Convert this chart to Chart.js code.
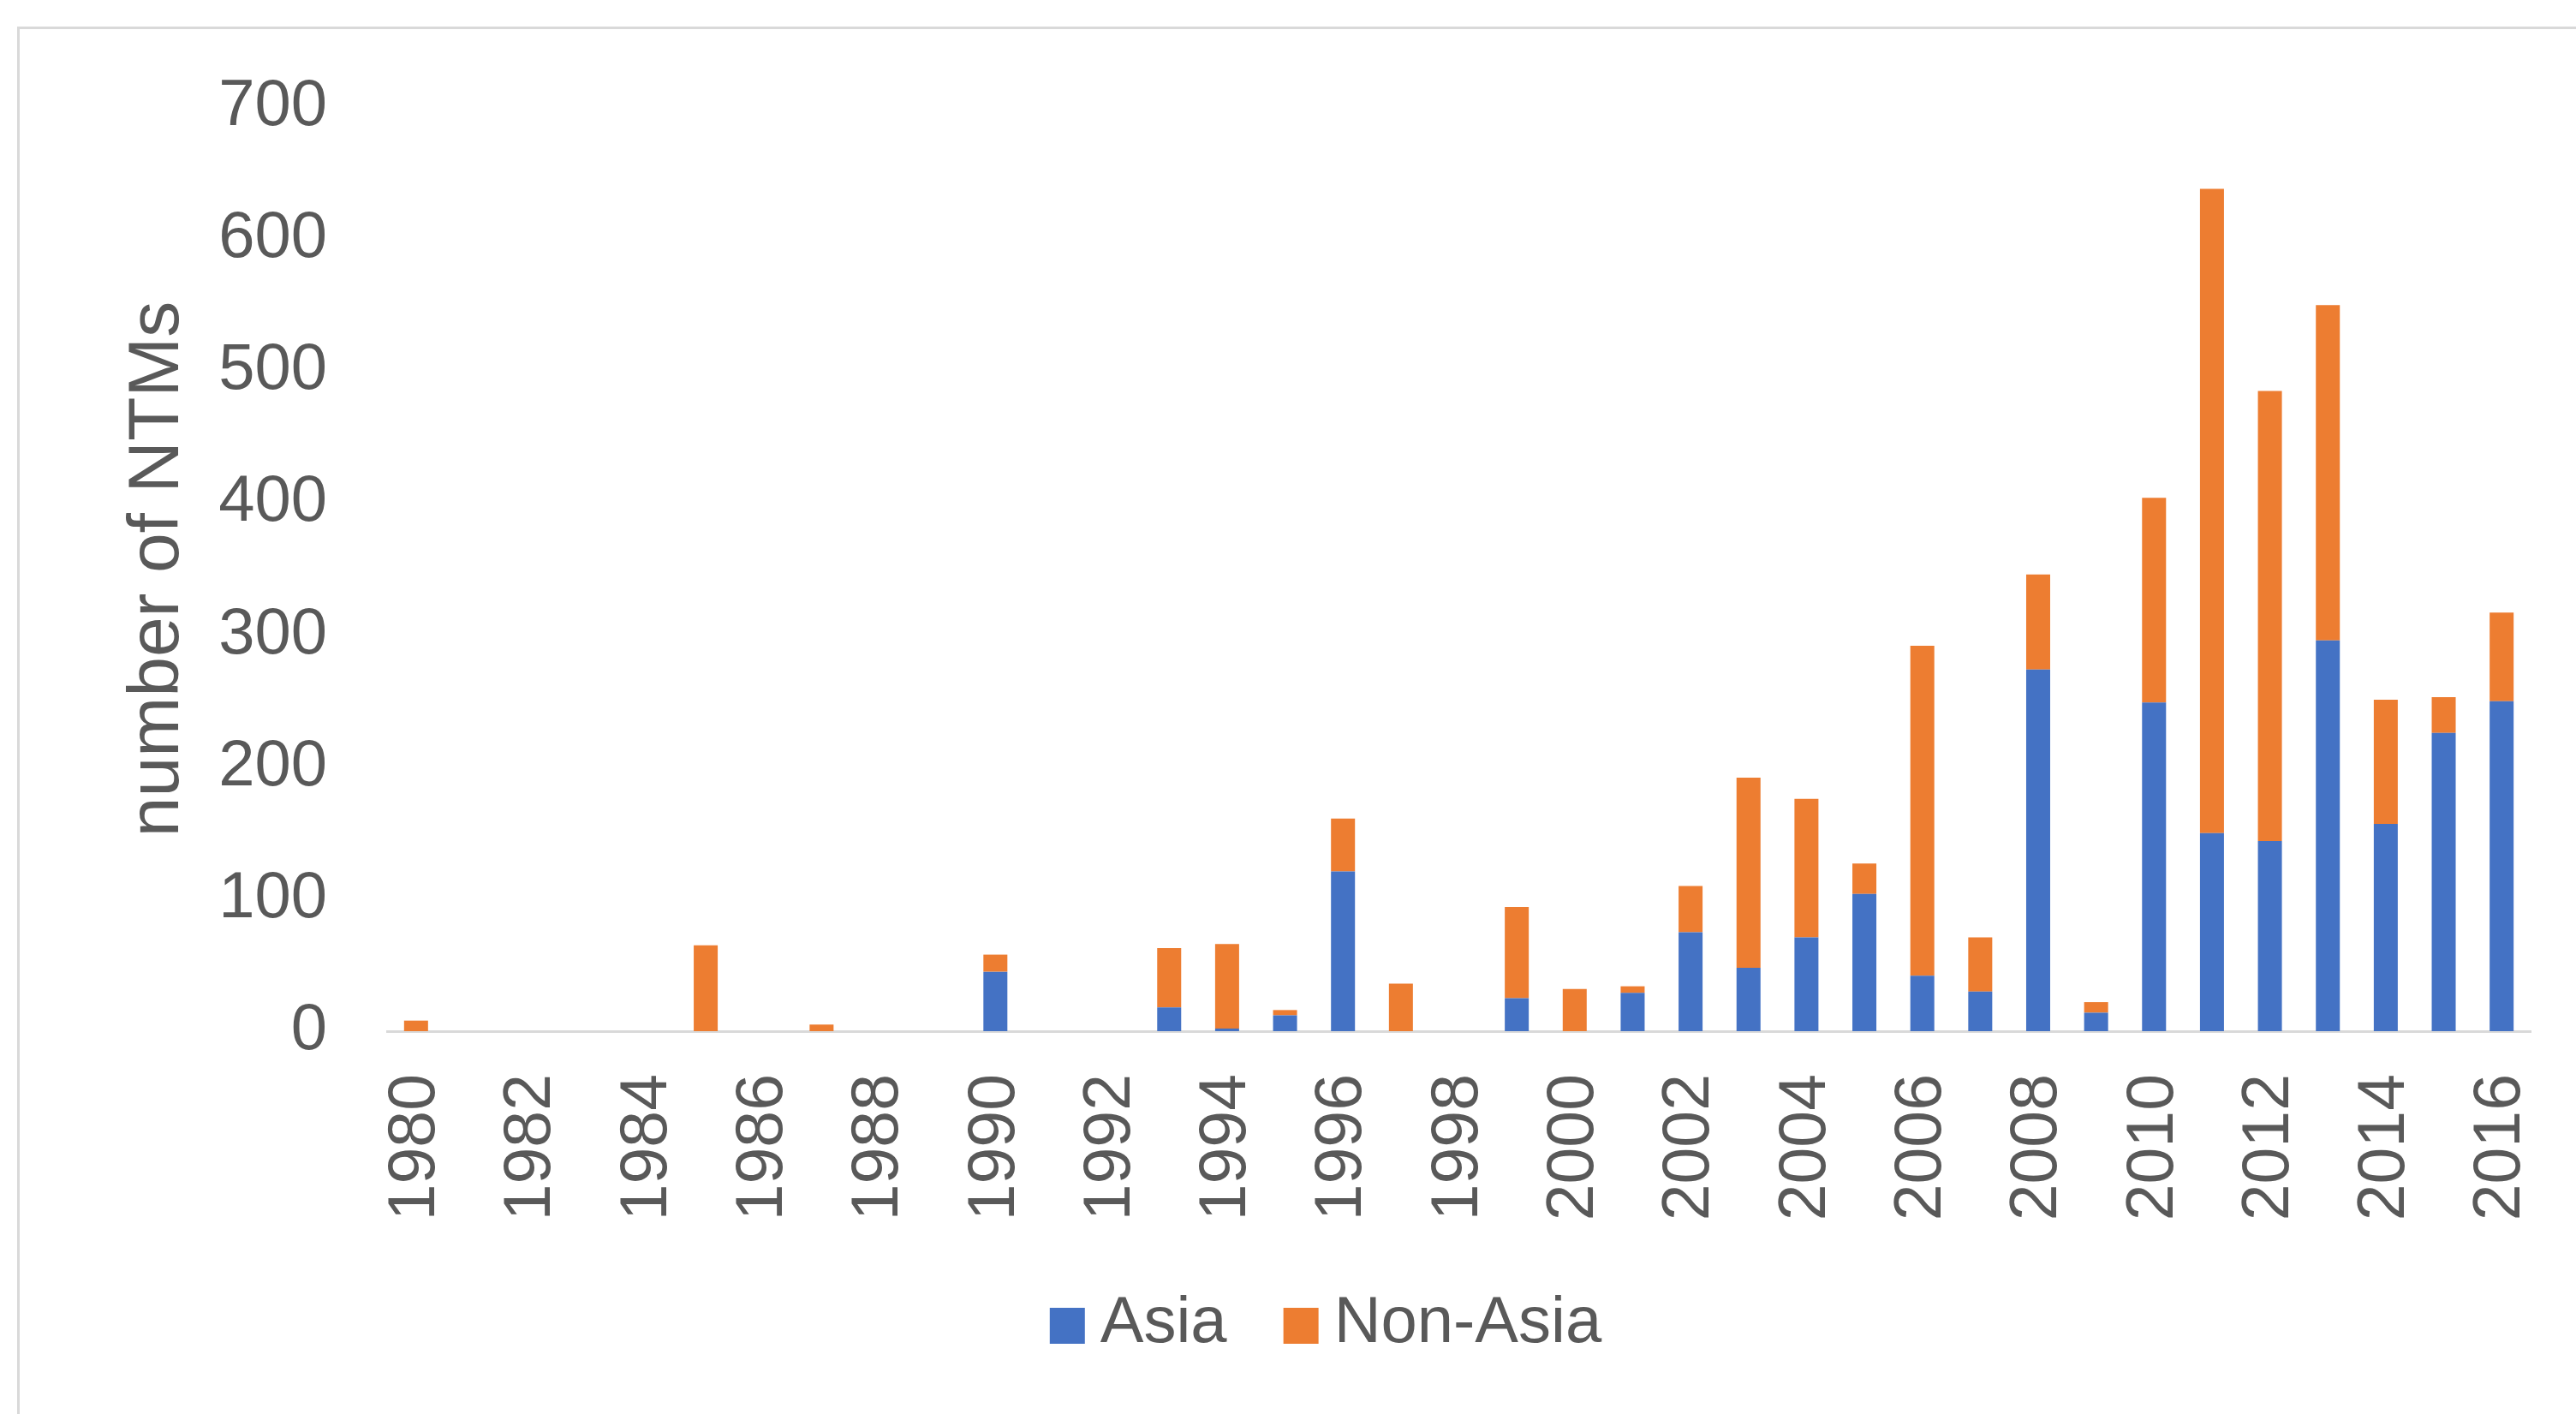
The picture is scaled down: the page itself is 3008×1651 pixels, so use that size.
<!DOCTYPE html>
<html>
<head>
<meta charset="utf-8">
<title>NTMs by year</title>
<script src="https://cdn.jsdelivr.net/npm/chart.js@4/dist/chart.umd.min.js"></script>
<style>
  html, body { margin: 0; padding: 0; background: #fff; overflow: hidden; }
  #frame {
    position: absolute; left: 20px; top: 31px; width: 3100px; height: 1700px;
    border-left: 3px solid #d9d9d9; border-top: 3px solid #d9d9d9;
  }
  #ntm { position: absolute; left: 0; top: 0; }
</style>
</head>
<body>
<div id="frame"></div>
<canvas id="ntm" width="3008" height="1651"></canvas>
<script>
const years = [
  "1980", "1981", "1982", "1983", "1984", "1985", "1986", "1987", "1988", "1989",
  "1990", "1991", "1992", "1993", "1994", "1995", "1996", "1997", "1998", "1999",
  "2000", "2001", "2002", "2003", "2004", "2005", "2006", "2007", "2008", "2009",
  "2010", "2011", "2012", "2013", "2014", "2015", "2016"
];

// values
const asia = [
  0, 0, 0, 0, 0, 0, 0, 0, 0, 0,
  45, 0, 0, 18, 2, 12, 121, 0, 0, 25,
  0, 29, 75, 48, 71, 104, 42, 30, 274, 14,
  249, 150, 144, 296, 157, 226, 250
];
const nonAsia = [
  8, 0, 0, 0, 0, 65, 0, 5, 0, 0,
  13, 0, 0, 45, 64, 4, 40, 36, 0, 69,
  32, 5, 35, 144, 105, 23, 250, 41, 72, 8,
  155, 488, 341, 254, 94, 27, 67
];

const yTicks = [0, 100, 200, 300, 400, 500, 600, 700];

const textColor = "#595959";
const fontFamily = "'Liberation Sans', Arial, sans-serif";

// Excel-style legend: small gap box->text, wider gap between items
const excelLegend = {
  id: "excelLegend",
  afterDraw(chart) {
    const c = chart.ctx;
    const box = 41, boxH = 42, gap = 18, itemGap = 66;
    const centerX = 1548, centerY = 1546;
    c.save();
    c.font = "76px " + fontFamily;
    c.textBaseline = "middle";
    const items = chart.data.datasets.map(ds => ({
      text: ds.label,
      color: ds.backgroundColor,
      w: box + gap + c.measureText(ds.label).width
    }));
    const total = items.reduce((s, it) => s + it.w, 0) + itemGap * (items.length - 1);
    let x = centerX - total / 2;
    items.forEach(it => {
      c.fillStyle = it.color;
      c.fillRect(x, centerY - boxH / 2 + 2, box, boxH);
      c.fillStyle = textColor;
      c.fillText(it.text, x + box + gap, centerY);
      x += it.w + itemGap;
    });
    c.restore();
  }
};

const ctx = document.getElementById("ntm").getContext("2d");

new Chart(ctx, {
  type: "bar",
  data: {
    labels: years,
    datasets: [
      {
        label: "Asia",
        data: asia,
        backgroundColor: "#4472c4",
        barPercentage: 0.414,
        categoryPercentage: 1
      },
      {
        label: "Non-Asia",
        data: nonAsia,
        backgroundColor: "#ed7d31",
        barPercentage: 0.414,
        categoryPercentage: 1
      }
    ]
  },
  plugins: [excelLegend],
  options: {
    responsive: false,
    animation: false,
    devicePixelRatio: 1,
    layout: {
      padding: { left: 134, right: 53, top: 125, bottom: 153 }
    },
    plugins: {
      tooltip: { enabled: false },
      legend: { display: false }
    },
    scales: {
      x: {
        stacked: true,
        grid: { display: false, drawTicks: false },
        border: { display: true, color: "#d9d9d9", width: 3 },
        ticks: {
          autoSkip: false,
          minRotation: 90,
          maxRotation: 90,
          padding: 50,
          color: textColor,
          font: { family: fontFamily, size: 77 },
          callback: function (value, index) {
            return index % 2 === 0 ? years[index] : "";
          }
        },
        afterFit: function (scale) {
          scale.height = 294;
          scale.paddingLeft = 0;
          scale.paddingRight = 0;
        }
      },
      y: {
        stacked: true,
        min: yTicks[0],
        max: yTicks[yTicks.length - 1],
        grid: { display: false, drawTicks: false },
        border: { display: false },
        afterBuildTicks: function (scale) {
          scale.ticks = yTicks.map(v => ({ value: v }));
        },
        ticks: {
          padding: 70,
          color: textColor,
          font: { family: fontFamily, size: 76 }
        },
        title: {
          display: true,
          text: "number of NTMs",
          color: textColor,
          padding: 0,
          font: { family: fontFamily, size: 84 }
        },
        afterFit: function (scale) {
          scale.width = 318;
          scale.paddingTop = 0;
          scale.paddingBottom = 0;
        }
      }
    }
  }
});
</script>
</body>
</html>
